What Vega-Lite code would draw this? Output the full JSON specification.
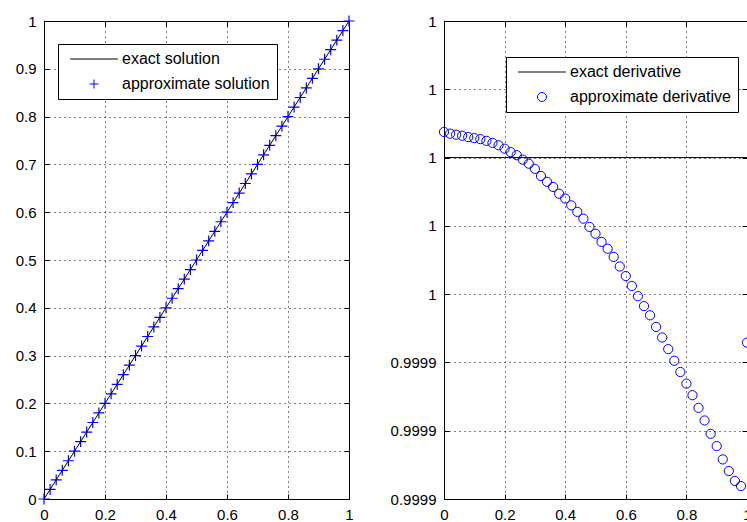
{
  "$schema": "https://vega.github.io/schema/vega-lite/v6.json",
  "background": "#ffffff",
  "padding": {"left": 14, "top": 12, "right": 0, "bottom": 0},
  "spacing": 95,
  "bounds": "flush",
  "config": {
    "font": "Liberation Sans",
    "view": {"stroke": "#000000", "strokeWidth": 1},
    "axis": {
      "title": null,
      "domainColor": "#000000",
      "tickColor": "#000000",
      "tickSize": -5,
      "labelPadding": 13,
      "gridColor": "#000000",
      "gridDash": [1, 4],
      "gridOpacity": 1,
      "gridWidth": 1,
      "labelFont": "Liberation Sans",
      "labelFontSize": 15,
      "labelColor": "#000000",
      "labelFlush": false,
      "labelOverlap": false
    },
    "legend": {
      "orient": "none",
      "title": null,
      "fillColor": "#ffffff",
      "strokeColor": "#000000",
      "padding": 7,
      "cornerRadius": 0,
      "labelFont": "Liberation Sans",
      "labelFontSize": 16,
      "labelColor": "#000000",
      "labelLimit": 400,
      "symbolSize": 81,
      "symbolStrokeWidth": 1,
      "symbolOffset": 21,
      "labelOffset": 20,
      "rowPadding": 9
    }
  },
  "datasets": {
    "exactSolution": [
      {"x": 0, "y": 0, "series": "exact solution"}, {"x": 0.02, "y": 0.02, "series": "exact solution"}, {"x": 0.04, "y": 0.04, "series": "exact solution"}, {"x": 0.06, "y": 0.06, "series": "exact solution"}, {"x": 0.08, "y": 0.08, "series": "exact solution"},
      {"x": 0.1, "y": 0.1, "series": "exact solution"}, {"x": 0.12, "y": 0.12, "series": "exact solution"}, {"x": 0.14, "y": 0.14, "series": "exact solution"}, {"x": 0.16, "y": 0.16, "series": "exact solution"}, {"x": 0.18, "y": 0.18, "series": "exact solution"},
      {"x": 0.2, "y": 0.2, "series": "exact solution"}, {"x": 0.22, "y": 0.22, "series": "exact solution"}, {"x": 0.24, "y": 0.24, "series": "exact solution"}, {"x": 0.26, "y": 0.26, "series": "exact solution"}, {"x": 0.28, "y": 0.28, "series": "exact solution"},
      {"x": 0.3, "y": 0.3, "series": "exact solution"}, {"x": 0.32, "y": 0.32, "series": "exact solution"}, {"x": 0.34, "y": 0.34, "series": "exact solution"}, {"x": 0.36, "y": 0.36, "series": "exact solution"}, {"x": 0.38, "y": 0.38, "series": "exact solution"},
      {"x": 0.4, "y": 0.4, "series": "exact solution"}, {"x": 0.42, "y": 0.42, "series": "exact solution"}, {"x": 0.44, "y": 0.44, "series": "exact solution"}, {"x": 0.46, "y": 0.46, "series": "exact solution"}, {"x": 0.48, "y": 0.48, "series": "exact solution"},
      {"x": 0.5, "y": 0.5, "series": "exact solution"}, {"x": 0.52, "y": 0.52, "series": "exact solution"}, {"x": 0.54, "y": 0.54, "series": "exact solution"}, {"x": 0.56, "y": 0.56, "series": "exact solution"}, {"x": 0.58, "y": 0.58, "series": "exact solution"},
      {"x": 0.6, "y": 0.6, "series": "exact solution"}, {"x": 0.62, "y": 0.62, "series": "exact solution"}, {"x": 0.64, "y": 0.64, "series": "exact solution"}, {"x": 0.66, "y": 0.66, "series": "exact solution"}, {"x": 0.68, "y": 0.68, "series": "exact solution"},
      {"x": 0.7, "y": 0.7, "series": "exact solution"}, {"x": 0.72, "y": 0.72, "series": "exact solution"}, {"x": 0.74, "y": 0.74, "series": "exact solution"}, {"x": 0.76, "y": 0.76, "series": "exact solution"}, {"x": 0.78, "y": 0.78, "series": "exact solution"},
      {"x": 0.8, "y": 0.8, "series": "exact solution"}, {"x": 0.82, "y": 0.82, "series": "exact solution"}, {"x": 0.84, "y": 0.84, "series": "exact solution"}, {"x": 0.86, "y": 0.86, "series": "exact solution"}, {"x": 0.88, "y": 0.88, "series": "exact solution"},
      {"x": 0.9, "y": 0.9, "series": "exact solution"}, {"x": 0.92, "y": 0.92, "series": "exact solution"}, {"x": 0.94, "y": 0.94, "series": "exact solution"}, {"x": 0.96, "y": 0.96, "series": "exact solution"}, {"x": 0.98, "y": 0.98, "series": "exact solution"},
      {"x": 1, "y": 1, "series": "exact solution"}
    ],
    "approxSolution": [
      {"x": 0, "y": 0, "series": "approximate solution"}, {"x": 0.02, "y": 0.02, "series": "approximate solution"}, {"x": 0.04, "y": 0.04, "series": "approximate solution"}, {"x": 0.06, "y": 0.06, "series": "approximate solution"}, {"x": 0.08, "y": 0.08, "series": "approximate solution"},
      {"x": 0.1, "y": 0.1, "series": "approximate solution"}, {"x": 0.12, "y": 0.12, "series": "approximate solution"}, {"x": 0.14, "y": 0.14, "series": "approximate solution"}, {"x": 0.16, "y": 0.16, "series": "approximate solution"}, {"x": 0.18, "y": 0.18, "series": "approximate solution"},
      {"x": 0.2, "y": 0.2, "series": "approximate solution"}, {"x": 0.22, "y": 0.22, "series": "approximate solution"}, {"x": 0.24, "y": 0.24, "series": "approximate solution"}, {"x": 0.26, "y": 0.26, "series": "approximate solution"}, {"x": 0.28, "y": 0.28, "series": "approximate solution"},
      {"x": 0.3, "y": 0.3, "series": "approximate solution"}, {"x": 0.32, "y": 0.32, "series": "approximate solution"}, {"x": 0.34, "y": 0.34, "series": "approximate solution"}, {"x": 0.36, "y": 0.36, "series": "approximate solution"}, {"x": 0.38, "y": 0.38, "series": "approximate solution"},
      {"x": 0.4, "y": 0.4, "series": "approximate solution"}, {"x": 0.42, "y": 0.42, "series": "approximate solution"}, {"x": 0.44, "y": 0.44, "series": "approximate solution"}, {"x": 0.46, "y": 0.46, "series": "approximate solution"}, {"x": 0.48, "y": 0.48, "series": "approximate solution"},
      {"x": 0.5, "y": 0.5, "series": "approximate solution"}, {"x": 0.52, "y": 0.52, "series": "approximate solution"}, {"x": 0.54, "y": 0.54, "series": "approximate solution"}, {"x": 0.56, "y": 0.56, "series": "approximate solution"}, {"x": 0.58, "y": 0.58, "series": "approximate solution"},
      {"x": 0.6, "y": 0.6, "series": "approximate solution"}, {"x": 0.62, "y": 0.62, "series": "approximate solution"}, {"x": 0.64, "y": 0.64, "series": "approximate solution"}, {"x": 0.66, "y": 0.66, "series": "approximate solution"}, {"x": 0.68, "y": 0.68, "series": "approximate solution"},
      {"x": 0.7, "y": 0.7, "series": "approximate solution"}, {"x": 0.72, "y": 0.72, "series": "approximate solution"}, {"x": 0.74, "y": 0.74, "series": "approximate solution"}, {"x": 0.76, "y": 0.76, "series": "approximate solution"}, {"x": 0.78, "y": 0.78, "series": "approximate solution"},
      {"x": 0.8, "y": 0.8, "series": "approximate solution"}, {"x": 0.82, "y": 0.82, "series": "approximate solution"}, {"x": 0.84, "y": 0.84, "series": "approximate solution"}, {"x": 0.86, "y": 0.86, "series": "approximate solution"}, {"x": 0.88, "y": 0.88, "series": "approximate solution"},
      {"x": 0.9, "y": 0.9, "series": "approximate solution"}, {"x": 0.92, "y": 0.92, "series": "approximate solution"}, {"x": 0.94, "y": 0.94, "series": "approximate solution"}, {"x": 0.96, "y": 0.96, "series": "approximate solution"}, {"x": 0.98, "y": 0.98, "series": "approximate solution"},
      {"x": 1, "y": 1, "series": "approximate solution"}
    ],
    "exactDerivative": [
      {"x": 0, "y": 1, "series": "exact derivative"}, {"x": 0.1, "y": 1, "series": "exact derivative"}, {"x": 0.2, "y": 1, "series": "exact derivative"}, {"x": 0.3, "y": 1, "series": "exact derivative"}, {"x": 0.4, "y": 1, "series": "exact derivative"}, {"x": 0.5, "y": 1, "series": "exact derivative"},
      {"x": 0.6, "y": 1, "series": "exact derivative"}, {"x": 0.7, "y": 1, "series": "exact derivative"}, {"x": 0.8, "y": 1, "series": "exact derivative"}, {"x": 0.9, "y": 1, "series": "exact derivative"}, {"x": 1, "y": 1, "series": "exact derivative"}
    ],
    "approxDerivative": [
      {"x": 0, "y": 1.0000075, "series": "approximate derivative"}, {"x": 0.02, "y": 1.000007, "series": "approximate derivative"}, {"x": 0.04, "y": 1.0000067, "series": "approximate derivative"}, {"x": 0.06, "y": 1.0000064, "series": "approximate derivative"}, {"x": 0.08, "y": 1.000006, "series": "approximate derivative"},
      {"x": 0.1, "y": 1.0000057, "series": "approximate derivative"}, {"x": 0.12, "y": 1.0000054, "series": "approximate derivative"}, {"x": 0.14, "y": 1.0000049, "series": "approximate derivative"}, {"x": 0.16, "y": 1.0000043, "series": "approximate derivative"}, {"x": 0.18, "y": 1.0000036, "series": "approximate derivative"},
      {"x": 0.2, "y": 1.0000026, "series": "approximate derivative"}, {"x": 0.22, "y": 1.0000016, "series": "approximate derivative"}, {"x": 0.24, "y": 1.0000007, "series": "approximate derivative"}, {"x": 0.26, "y": 0.9999994, "series": "approximate derivative"}, {"x": 0.28, "y": 0.9999982, "series": "approximate derivative"},
      {"x": 0.3, "y": 0.9999967, "series": "approximate derivative"}, {"x": 0.32, "y": 0.9999946, "series": "approximate derivative"}, {"x": 0.34, "y": 0.9999929, "series": "approximate derivative"}, {"x": 0.36, "y": 0.9999914, "series": "approximate derivative"}, {"x": 0.38, "y": 0.9999894, "series": "approximate derivative"},
      {"x": 0.4, "y": 0.999988, "series": "approximate derivative"}, {"x": 0.42, "y": 0.999986, "series": "approximate derivative"}, {"x": 0.44, "y": 0.9999841, "series": "approximate derivative"}, {"x": 0.46, "y": 0.9999821, "series": "approximate derivative"}, {"x": 0.48, "y": 0.9999797, "series": "approximate derivative"},
      {"x": 0.5, "y": 0.9999777, "series": "approximate derivative"}, {"x": 0.52, "y": 0.9999753, "series": "approximate derivative"}, {"x": 0.54, "y": 0.9999733, "series": "approximate derivative"}, {"x": 0.56, "y": 0.9999709, "series": "approximate derivative"}, {"x": 0.58, "y": 0.9999681, "series": "approximate derivative"},
      {"x": 0.6, "y": 0.9999653, "series": "approximate derivative"}, {"x": 0.62, "y": 0.9999624, "series": "approximate derivative"}, {"x": 0.64, "y": 0.9999594, "series": "approximate derivative"}, {"x": 0.66, "y": 0.9999565, "series": "approximate derivative"}, {"x": 0.68, "y": 0.9999538, "series": "approximate derivative"},
      {"x": 0.7, "y": 0.9999504, "series": "approximate derivative"}, {"x": 0.72, "y": 0.9999473, "series": "approximate derivative"}, {"x": 0.74, "y": 0.9999439, "series": "approximate derivative"}, {"x": 0.76, "y": 0.9999405, "series": "approximate derivative"}, {"x": 0.78, "y": 0.9999372, "series": "approximate derivative"},
      {"x": 0.8, "y": 0.9999338, "series": "approximate derivative"}, {"x": 0.82, "y": 0.9999304, "series": "approximate derivative"}, {"x": 0.84, "y": 0.9999267, "series": "approximate derivative"}, {"x": 0.86, "y": 0.999923, "series": "approximate derivative"}, {"x": 0.88, "y": 0.9999191, "series": "approximate derivative"},
      {"x": 0.9, "y": 0.9999155, "series": "approximate derivative"}, {"x": 0.92, "y": 0.9999116, "series": "approximate derivative"}, {"x": 0.94, "y": 0.9999082, "series": "approximate derivative"}, {"x": 0.96, "y": 0.9999053, "series": "approximate derivative"}, {"x": 0.98, "y": 0.9999038, "series": "approximate derivative"},
      {"x": 1, "y": 0.9999458, "series": "approximate derivative"}
    ]
  },
  "resolve": {"scale": {"color": "independent", "shape": "independent"}, "legend": {"color": "independent", "shape": "independent"}},
  "hconcat": [
    {
      "width": 305,
      "height": 478,
      "resolve": {"axis": {"x": "independent", "y": "independent"}},
      "layer": [
        {
          "data": {"name": "approxSolution"},
          "mark": {"type": "point", "filled": false, "size": 120, "strokeWidth": 1.2, "opacity": 1},
          "encoding": {
            "x": {"field": "x", "type": "quantitative", "scale": {"domain": [0, 1], "nice": false, "zero": false},
                  "axis": {"orient": "top", "values": [0, 0.2, 0.4, 0.6, 0.8, 1], "labels": false, "grid": false, "domain": false}},
            "y": {"field": "y", "type": "quantitative", "scale": {"domain": [0, 1], "nice": false, "zero": false},
                  "axis": {"orient": "right", "values": [0, 0.1, 0.2, 0.3, 0.4, 0.5, 0.6, 0.7, 0.8, 0.9, 1], "labels": false, "grid": false, "domain": false}},
            "color": {"field": "series", "type": "nominal",
                      "scale": {"domain": ["exact solution", "approximate solution"], "range": ["#000000", "#0000ff"]},
                      "legend": {"legendX": 14, "legendY": 23}},
            "shape": {"field": "series", "type": "nominal",
                      "scale": {"domain": ["exact solution", "approximate solution"], "range": ["M-5.3,0H5.3", "M-1,0H1M0,-1V1"]},
                      "legend": {"legendX": 14, "legendY": 23}}
          }
        },
        {
          "data": {"name": "exactSolution"},
          "mark": {"type": "line", "strokeWidth": 1},
          "encoding": {
            "x": {"field": "x", "type": "quantitative", "scale": {"domain": [0, 1], "nice": false, "zero": false},
                  "axis": {"values": [0, 0.2, 0.4, 0.6, 0.8, 1], "format": "~g", "grid": true}},
            "y": {"field": "y", "type": "quantitative", "scale": {"domain": [0, 1], "nice": false, "zero": false},
                  "axis": {"values": [0, 0.1, 0.2, 0.3, 0.4, 0.5, 0.6, 0.7, 0.8, 0.9, 1], "format": "~g", "grid": true}},
            "color": {"field": "series", "type": "nominal",
                      "scale": {"domain": ["exact solution", "approximate solution"], "range": ["#000000", "#0000ff"]},
                      "legend": {"legendX": 14, "legendY": 23}}
          }
        }
      ]
    },
    {
      "width": 303,
      "height": 478,
      "resolve": {"axis": {"x": "independent", "y": "independent"}},
      "layer": [
        {
          "data": {"name": "approxDerivative"},
          "mark": {"type": "point", "filled": false, "size": 85, "strokeWidth": 1, "opacity": 1},
          "encoding": {
            "x": {"field": "x", "type": "quantitative", "scale": {"domain": [0, 1], "nice": false, "zero": false},
                  "axis": {"orient": "top", "values": [0, 0.2, 0.4, 0.6, 0.8, 1], "labels": false, "grid": false, "domain": false}},
            "y": {"field": "y", "type": "quantitative", "scale": {"domain": [0.9999, 1.00004], "nice": false, "zero": false},
                  "axis": {"orient": "right", "values": [0.9999, 0.99992, 0.99994, 0.99996, 0.99998, 1, 1.00002, 1.00004], "labels": false, "grid": false, "domain": false}},
            "color": {"field": "series", "type": "nominal",
                      "scale": {"domain": ["exact derivative", "approximate derivative"], "range": ["#000000", "#0000ff"]},
                      "legend": {"legendX": 62, "legendY": 36}},
            "shape": {"field": "series", "type": "nominal",
                      "scale": {"domain": ["exact derivative", "approximate derivative"], "range": ["M-5.3,0H5.3", "circle"]},
                      "legend": {"legendX": 62, "legendY": 36}}
          }
        },
        {
          "data": {"name": "exactDerivative"},
          "mark": {"type": "line", "strokeWidth": 1},
          "encoding": {
            "x": {"field": "x", "type": "quantitative", "scale": {"domain": [0, 1], "nice": false, "zero": false},
                  "axis": {"values": [0, 0.2, 0.4, 0.6, 0.8, 1], "format": "~g", "grid": true}},
            "y": {"field": "y", "type": "quantitative", "scale": {"domain": [0.9999, 1.00004], "nice": false, "zero": false},
                  "axis": {"values": [0.9999, 0.99992, 0.99994, 0.99996, 0.99998, 1, 1.00002, 1.00004], "format": ".4~g", "grid": true}},
            "color": {"field": "series", "type": "nominal",
                      "scale": {"domain": ["exact derivative", "approximate derivative"], "range": ["#000000", "#0000ff"]},
                      "legend": {"legendX": 62, "legendY": 36}}
          }
        }
      ]
    }
  ]
}
